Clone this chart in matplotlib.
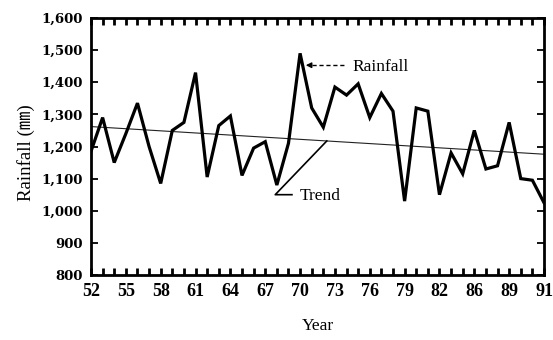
import matplotlib
matplotlib.use("Agg")
import matplotlib.pyplot as plt
import numpy as np

# ---- data ----
years = list(range(52, 92))
rainfall = [1185, 1290, 1150, 1240, 1335, 1200, 1085, 1250, 1275, 1430,
            1105, 1265, 1295, 1110, 1195, 1215, 1080, 1210, 1490, 1320,
            1260, 1385, 1360, 1395, 1290, 1365, 1310, 1030, 1320, 1310,
            1050, 1180, 1115, 1250, 1130, 1140, 1275, 1100, 1095, 1025]
trend_years = [52, 91]
trend_values = [1262, 1176]

xtick_pos = [52, 55, 58, 61, 64, 67, 70, 73, 76, 79, 82, 85, 88, 91]
xtick_labels = ['52', '55', '58', '61', '64', '67', '70', '73', '76', '79',
                '82', '86', '89', '91']
ytick_pos = [800, 900, 1000, 1100, 1200, 1300, 1400, 1500, 1600]
ytick_labels = ['800', '900', '1,000', '1,100', '1,200', '1,300', '1,400',
                '1,500', '1,600']

fig = plt.figure(figsize=(5.53, 3.40), dpi=100)
ax = fig.add_axes([91/553, 1-275/340, (544-91)/553, (275-18)/340])

ax.plot(trend_years, trend_values, color='#222222', lw=0.8, zorder=2)
ax.plot(years, rainfall, color='black', lw=2.3, solid_joinstyle='miter', zorder=3)

ax.set_xlim(52, 91)
ax.set_ylim(800, 1600)

ax.set_xticks(xtick_pos)
ax.set_xticklabels(xtick_labels, family='Liberation Serif', fontweight='bold', fontsize=13)
ax.set_xticks(years, minor=True)
ax.set_yticks(ytick_pos)
ax.set_yticklabels(ytick_labels, family='DejaVu Serif', fontweight='bold', fontsize=9.5)

ax.tick_params(axis='x', which='both', direction='in', top=True, bottom=True,
               length=5, width=2, pad=6)
ax.tick_params(axis='y', which='both', direction='in', left=True, right=True,
               length=5, width=1.3, pad=6)
for s in ax.spines.values():
    s.set_linewidth(2)

# Rainfall annotation (dashed arrow)
ax.plot([71.0, 73.8], [1453, 1453], color='black', lw=1, ls=(0, (3, 2)))
ax.annotate('', xy=(70.25, 1453), xytext=(71.1, 1453),
            arrowprops=dict(arrowstyle='-|>', color='black', lw=1, mutation_scale=8))
ax.text(74.5, 1448, 'Rainfall', family='Liberation Serif', fontsize=12.5,
        ha='left', va='center')

# Trend annotation
t_at = np.interp(72.3, trend_years, trend_values)
ax.plot([72.3, 67.86, 69.3], [t_at, 1050, 1050], color='black', lw=1.2)
ax.text(70.0, 1047, 'Trend', family='Liberation Serif', fontsize=12.5,
        ha='left', va='center')

fig.text(318/553, 1-326/340, 'Year', family='Liberation Serif', fontsize=12.5,
         ha='center', va='center')
fig.text(26/553, 1-153/340, 'Rainfall (㎜)', family=['Liberation Serif', 'Noto Sans CJK JP'],
         fontsize=13.5, rotation=90, ha='center', va='center')

fig.savefig('out.png', dpi=100)
